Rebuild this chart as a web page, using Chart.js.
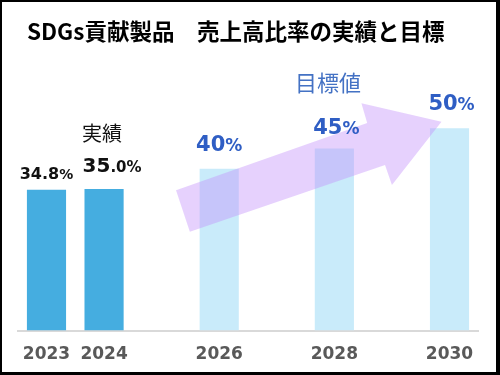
<!DOCTYPE html>
<html>
<head>
<meta charset="utf-8">
<script src="https://cdn.jsdelivr.net/npm/chart.js@4/dist/chart.umd.min.js"></script>
<style>
  html, body { margin: 0; padding: 0; background: #fff; }
  #frame {
    position: absolute; left: 0; top: 0;
    width: 494px; height: 370px;
    border-style: solid; border-color: #000;
    border-width: 2px 4px 3px 2px;
    background: #fff;
  }
  canvas { display: block; }
</style>
</head>
<body>
<div id="frame"><canvas id="salesChart" width="494" height="370"></canvas></div>
<script>
// --- data ---
const years = ['2023', '2024', '2025', '2026', '2027', '2028', '2029', '2030'];
const tickLabels = ['2023', '2024', '', '2026', '', '2028', '', '2030'];
const actualValues = [34.8, 35.0, null, null, null, null, null, null];
const targetValues = [null, null, null, 40, null, 45, null, 50];
// label text split into big / small parts (the "%" and decimals are set smaller)
const labelParts = [
  [['34.8', 'big'], ['%', 'small']],
  [['35', 'big'], ['.0%', 'small']],
  null,
  [['40', 'big'], ['%', 'small']],
  null,
  [['45', 'big'], ['%', 'small']],
  null,
  [['50', 'big'], ['%', 'small']]
];

const titleText = 'SDGs貢献製品　売上高比率の実績と目標';
const actualNote = '実績';
const targetNote = '目標値';

// --- styles ---
const actualColor = '#45ade0';
const targetColor = '#c9ebfa';
const targetTextColor = '#2f5ec4';
const arrowColor = 'rgba(195, 145, 250, 0.42)';

// label styles per bar: fonts, colour and small nudges (dx, dy above bar top)
const labelStyle = [
  { big: 'bold 16px "DejaVu Sans"', small: 'bold 14px "DejaVu Sans"', color: '#111', dx: 0, dy: 11 },
  { big: 'bold 20px "DejaVu Sans"', small: 'bold 15px "DejaVu Sans"', color: '#111', dx: 8, dy: 17 },
  null,
  { big: 'bold 21px "DejaVu Sans"', small: 'bold 17px "DejaVu Sans"', color: targetTextColor, dx: 0, dy: 18 },
  null,
  { big: 'bold 21px "DejaVu Sans"', small: 'bold 17px "DejaVu Sans"', color: targetTextColor, dx: 2, dy: 14 },
  null,
  { big: 'bold 21px "DejaVu Sans"', small: 'bold 17px "DejaVu Sans"', color: targetTextColor, dx: 2, dy: 18 }
];

// growth arrow outline in (category index, value) space
const arrowShape = [
  [2.25, 34.7], [2.49, 24.4], [5.88, 40.9], [6.00, 36.0],
  [6.86, 51.6], [5.47, 56.2], [5.57, 51.3]
];

/**
 * Draws one label made of parts with different font sizes, centred on cx
 */
function drawParts(ctx, parts, style, cx, baseY) {
  let total = 0;
  const widths = parts.map(([text, size]) => {
    ctx.font = style[size];
    const w = ctx.measureText(text).width;
    total += w;
    return w;
  });
  let x = cx - total / 2;
  ctx.fillStyle = style.color;
  ctx.textAlign = 'left';
  ctx.textBaseline = 'alphabetic';
  parts.forEach(([text, size], i) => {
    ctx.font = style[size];
    ctx.fillText(text, x, baseY);
    x += widths[i];
  });
}

const decorPlugin = {
  id: 'decor',
  afterDatasetsDraw(chart) {
    const ctx = chart.ctx;
    const xs = chart.scales.x;
    const ys = chart.scales.y;
    const step = xs.getPixelForValue(1) - xs.getPixelForValue(0);
    const px = i => xs.getPixelForValue(0) + i * step;

    // growth arrow
    ctx.save();
    ctx.beginPath();
    arrowShape.forEach(([i, v], k) => {
      const x = px(i), y = ys.getPixelForValue(v);
      if (k === 0) ctx.moveTo(x, y); else ctx.lineTo(x, y);
    });
    ctx.closePath();
    ctx.fillStyle = arrowColor;
    ctx.fill();
    ctx.restore();

    // value labels
    ctx.save();
    years.forEach((yr, i) => {
      const parts = labelParts[i];
      const style = labelStyle[i];
      if (!parts || !style) return;
      const v = actualValues[i] != null ? actualValues[i] : targetValues[i];
      drawParts(ctx, parts, style, px(i) + style.dx, ys.getPixelForValue(v) - style.dy);
    });
    ctx.restore();

    // notes
    ctx.save();
    ctx.textAlign = 'left';
    ctx.textBaseline = 'middle';
    ctx.fillStyle = '#111';
    ctx.font = '20px "Noto Sans CJK JP"';
    ctx.fillText(actualNote, 80, 131);
    ctx.fillStyle = '#4472c4';
    ctx.font = '22px "Noto Sans CJK JP"';
    ctx.fillText(targetNote, 293, 81);
    ctx.restore();

    // title
    ctx.save();
    ctx.textAlign = 'left';
    ctx.textBaseline = 'middle';
    ctx.fillStyle = '#000';
    ctx.font = 'bold 22.5px "Noto Sans CJK JP"';
    ctx.fillText(titleText, 25, 29);
    ctx.restore();
  }
};

const ctx = document.getElementById('salesChart').getContext('2d');
new Chart(ctx, {
  type: 'bar',
  data: {
    labels: years,
    datasets: [
      { label: '実績', data: actualValues, backgroundColor: actualColor },
      { label: '目標', data: targetValues, backgroundColor: targetColor }
    ]
  },
  options: {
    responsive: false,
    animation: false,
    layout: { padding: { left: 15.7, right: 17.7, top: 85.8, bottom: 7.1 } },
    datasets: { bar: { barPercentage: 0.68, categoryPercentage: 1.0 } },
    plugins: {
      legend: { display: false },
      tooltip: { enabled: false }
    },
    scales: {
      x: {
        stacked: true,
        grid: { display: false, drawTicks: false },
        border: { display: true, color: '#d9d9d9', width: 2 },
        ticks: {
          autoSkip: false,
          maxRotation: 0,
          padding: 14,
          color: '#595959',
          font: { family: 'DejaVu Sans', size: 17, weight: 'bold' },
          callback: (value, index) => tickLabels[index]
        },
        afterFit: scale => { scale.height = 34.4; }
      },
      y: {
        stacked: true,
        display: false,
        min: 0,
        max: 60
      }
    }
  },
  plugins: [decorPlugin]
});
</script>
</body>
</html>
